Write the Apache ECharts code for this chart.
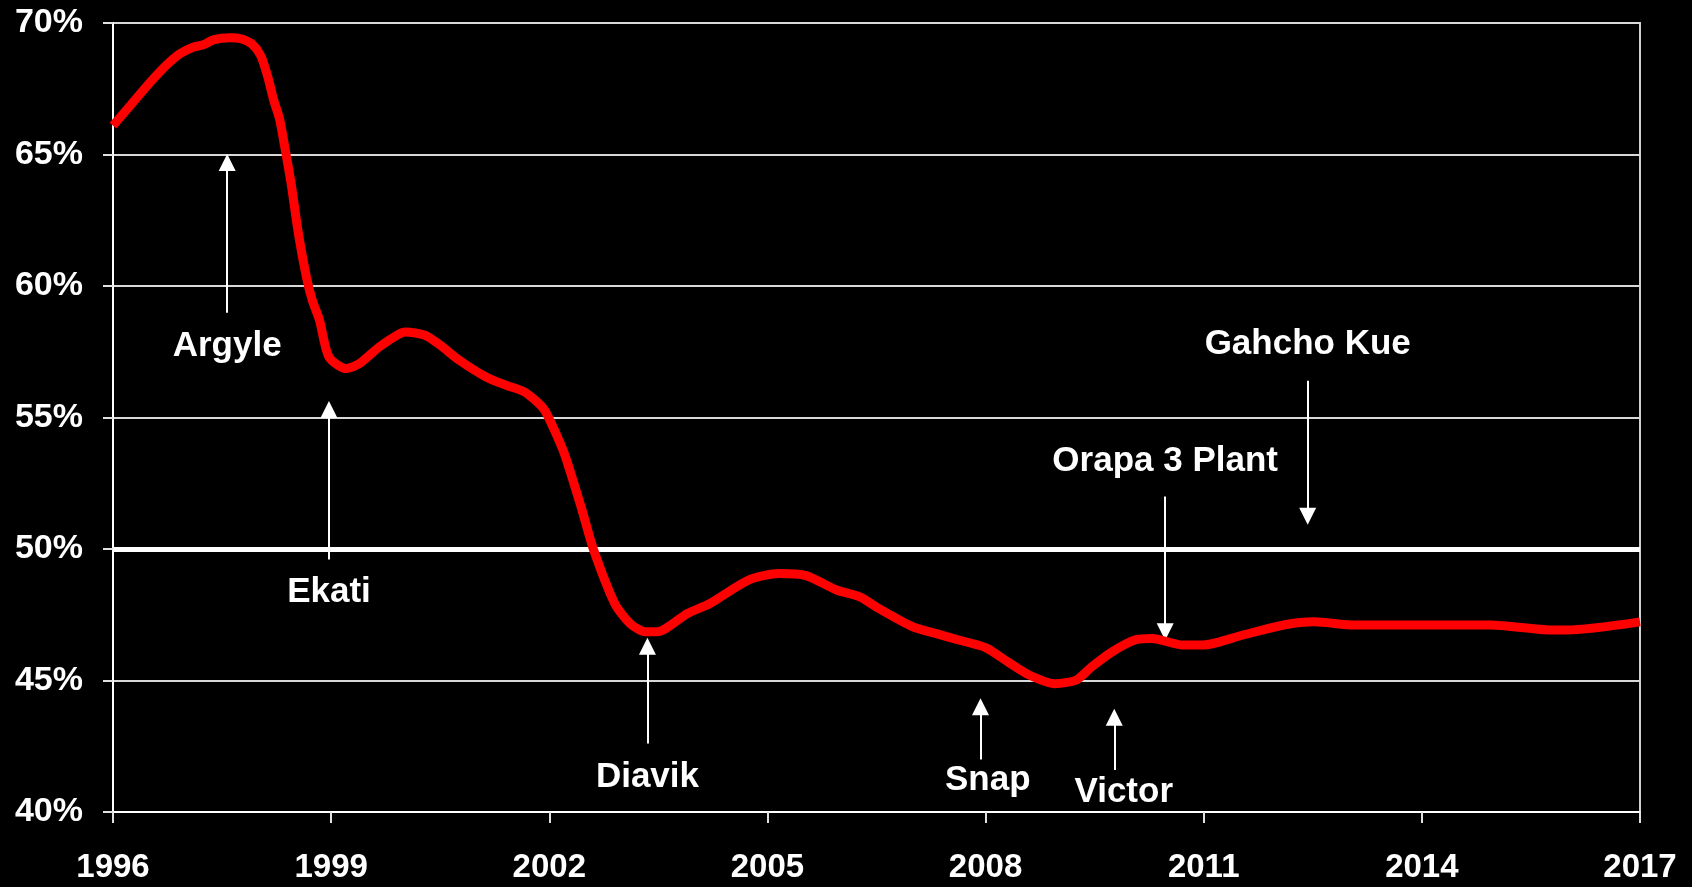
<!DOCTYPE html>
<html>
<head>
<meta charset="utf-8">
<script src="https://cdn.jsdelivr.net/npm/echarts@6/dist/echarts.min.js"></script>
<style>
  html, body { margin: 0; padding: 0; background: #000; }
  #myChart { width: 1692px; height: 887px; }
</style>
</head>
<body>
<div id="myChart"></div>
<script>
// share curve (year, %)
var years = [1996.0, 1996.24, 1996.5, 1996.74, 1996.92, 1997.1, 1997.24, 1997.39, 1997.6, 1997.76, 1997.91,
    1998.03, 1998.13, 1998.21, 1998.29, 1998.37, 1998.45, 1998.55, 1998.66, 1998.74, 1998.84, 1998.97,
    1999.21, 1999.39, 1999.66, 1999.92, 2000.02, 2000.29, 2000.5, 2000.76, 2001.13, 2001.4, 2001.66,
    2001.92, 2002.05, 2002.21, 2002.45, 2002.61, 2002.9, 2003.11, 2003.32, 2003.48, 2003.9, 2004.21,
    2004.74, 2005.16, 2005.53, 2005.95, 2006.27, 2006.53, 2007.0, 2007.3, 2007.63, 2008.0, 2008.3,
    2008.6, 2008.95, 2009.25, 2009.46, 2009.74, 2010.05, 2010.29, 2010.71, 2010.99, 2011.54, 2012.1,
    2012.52, 2013.07, 2013.77, 2014.95, 2015.78, 2015.99, 2017.0];
var shares = [66.1, 66.87, 67.71, 68.41, 68.83, 69.08, 69.17, 69.37, 69.44, 69.4, 69.2,
    68.77, 67.94, 67.06, 66.36, 65.16, 63.89, 61.99, 60.34, 59.46, 58.7, 57.3,
    56.86, 57.05, 57.68, 58.15, 58.25, 58.13, 57.75, 57.18, 56.54, 56.23, 55.97,
    55.34, 54.64, 53.6, 51.48, 49.96, 47.93, 47.17, 46.85, 46.85, 47.55, 47.93,
    48.82, 49.07, 48.99, 48.44, 48.18, 47.74, 47.04, 46.8, 46.54, 46.25, 45.72,
    45.21, 44.88, 45.02, 45.52, 46.09, 46.54, 46.6, 46.35, 46.35, 46.73, 47.11,
    47.23, 47.11, 47.11, 47.11, 46.92, 46.92, 47.23];

// mine annotations
var annoNames = ['Argyle', 'Ekati', 'Diavik', 'Snap', 'Victor', 'Orapa 3 Plant', 'Gahcho Kue'];
var annoYears = [1997.57, 1998.97, 2003.35, 2007.93, 2009.77, 2010.47, 2012.43];
var arrowFrom = [58.98, 49.6, 42.6, 42.0, 41.6, 52.0, 56.4];
var arrowTo = [64.7, 55.3, 46.3, 44.0, 43.6, 46.85, 51.25];
var labelYears = [1997.57, 1998.97, 2003.35, 2008.03, 2009.9, 2010.47, 2012.43];
var labelShares = [57.7, 48.35, 41.3, 41.2, 40.75, 53.35, 57.8];

var firstYear = 1996;
var yTicks = [40, 70, 5];

var myChart = echarts.init(document.getElementById('myChart'));

var lineData = [];
for (var i = 0; i < years.length; i++) {
    lineData.push([years[i] - firstYear, shares[i]]);
}
var arrows = [];
var labels = [];
for (var j = 0; j < annoNames.length; j++) {
    arrows.push([
        { coord: [annoYears[j] - firstYear, arrowFrom[j]] },
        { coord: [annoYears[j] - firstYear, arrowTo[j]] }
    ]);
    labels.push({ name: annoNames[j], value: [labelYears[j] - firstYear, labelShares[j]] });
}

var font = '"Liberation Sans", Arial, sans-serif';

var option = {
    animation: false,
    backgroundColor: '#000',
    textStyle: { fontFamily: font },
    grid: {
        left: 113, right: 52, top: 23, bottom: 75,
        show: true, borderColor: '#d0d0d0', borderWidth: 2
    },
    xAxis: {
        type: 'value',
        min: 0, max: 21, interval: 3,
        axisLine: { lineStyle: { color: '#fff', width: 2 } },
        axisTick: { show: true, length: 11, lineStyle: { color: '#e0e0e0', width: 2 } },
        axisLabel: {
            color: '#fff', fontWeight: 'bold', fontSize: 33, fontFamily: font, margin: 39,
            formatter: function (v) { return String(v + firstYear); }
        },
        splitLine: { show: false }
    },
    yAxis: {
        type: 'value',
        min: yTicks[0], max: yTicks[1], interval: yTicks[2],
        axisLine: { show: true, lineStyle: { color: '#fff', width: 2 } },
        axisTick: { show: true, length: 10, lineStyle: { color: '#e0e0e0', width: 2 } },
        axisLabel: {
            color: '#fff', fontWeight: 'bold', fontSize: 34, fontFamily: font, margin: 30,
            formatter: '{value}%'
        },
        splitLine: { show: true, lineStyle: { color: '#d8d8d8', width: 2 } }
    },
    series: [
        {
            name: 'share',
            type: 'line',
            data: lineData,
            smooth: 0.25,
            showSymbol: false,
            z: 5,
            lineStyle: { color: '#ff0000', width: 9 },
            markLine: {
                silent: true,
                symbol: 'none',
                label: { show: false },
                lineStyle: { color: '#fff', width: 5, type: 'solid' },
                data: [{ yAxis: 50 }]
            }
        },
        {
            name: 'arrows',
            type: 'line',
            data: [],
            z: 4,
            markLine: {
                silent: true,
                symbol: ['none', 'triangle'],
                symbolSize: 17,
                label: { show: false },
                lineStyle: { color: '#fff', width: 2, type: 'solid' },
                data: arrows
            }
        },
        {
            name: 'labels',
            type: 'scatter',
            data: labels,
            symbolSize: 0,
            z: 6,
            itemStyle: { opacity: 1 },
            label: {
                show: true,
                position: 'inside',
                color: '#ffffff',
                opacity: 1,
                fontWeight: 'bold',
                fontSize: 35,
                fontFamily: font,
                formatter: function (p) { return p.name; }
            }
        }
    ]
};
myChart.setOption(option);
</script>
</body>
</html>
